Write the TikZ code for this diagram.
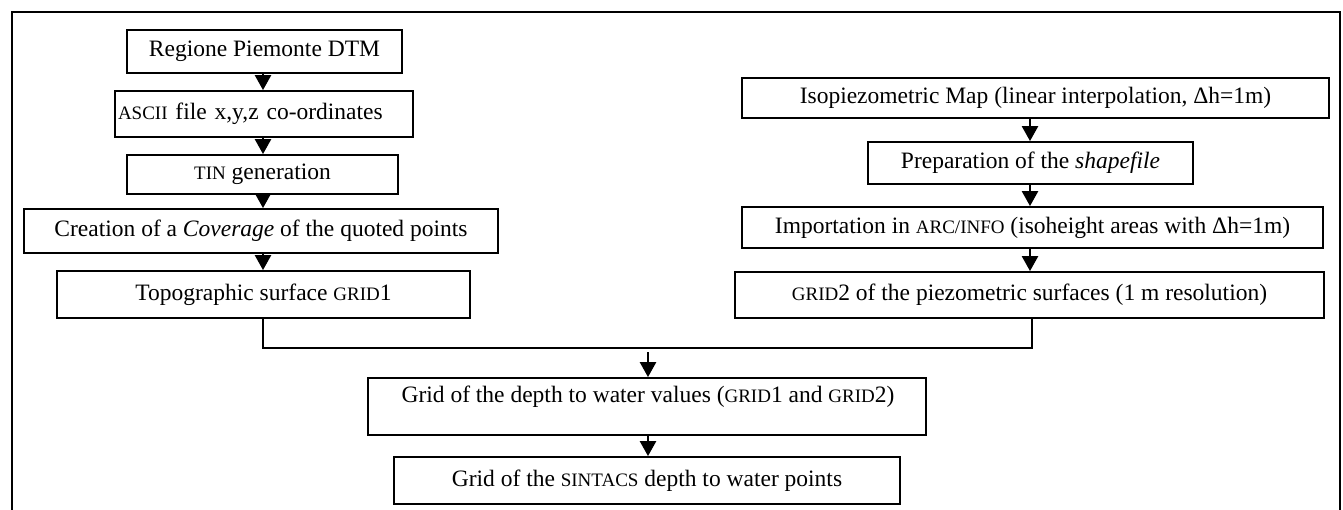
\documentclass[tikz,border=0pt]{standalone}
\usepackage{fontspec}
\setmainfont{Liberation Serif}
\usetikzlibrary{arrows.meta}
\newcommand\mysc[1]{{\fontsize{19}{22}\selectfont #1}}
\begin{document}
\begin{tikzpicture}[x=1pt,y=-1pt,
  font=\fontsize{23.5}{28}\selectfont,
  box/.style={draw, line width=1.8pt, inner sep=0pt},
  conn/.style={line width=1.8pt},
  arr/.style={line width=2.5pt, -{Triangle[length=15pt,width=16pt]}}]
\useasboundingbox (0,0) rectangle (1343,510);
% frame
\draw[line width=2pt] (12,510) -- (12,12) -- (1340,12) -- (1340,510);
% left column
\node[box, minimum width=275pt, minimum height=43pt] (b1) at (264.5,51.5) {Regione Piemonte DTM};
\node[box, minimum width=298pt, minimum height=46pt, text width=292pt, align=left] (b2) at (264,114) {\mysc{ASCII} file x,y,z co-ordinates};
\node[box, minimum width=271pt, minimum height=39pt] (b3) at (262.5,174.5) {\mysc{TIN} generation};
\node[box, minimum width=474pt, minimum height=44pt] (b4) at (261,231) {Creation of a \textit{Coverage} of the quoted points};
\node[box, minimum width=413pt, minimum height=47pt] (b5) at (263.5,294.5) {Topographic surface \mysc{GRID}1};
% right column
\node[box, minimum width=587pt, minimum height=40pt] (r1) at (1035.5,98) {Isopiezometric Map (linear interpolation, Δh=1m)};
\node[box, minimum width=325pt, minimum height=42pt] (r2) at (1030.5,163) {Preparation of the \textit{shapefile}};
\node[box, minimum width=581pt, minimum height=41pt] (r3) at (1032.5,227.5) {Importation in \mysc{ARC/INFO} (isoheight areas with Δh=1m)};
\node[box, minimum width=589pt, minimum height=46pt] (r4) at (1029.5,295) {\mysc{GRID}2 of the piezometric surfaces (1 m resolution)};
% bottom
\node[box, minimum width=558pt, minimum height=57pt] (c1) at (647,406.5) {};
\node (c1t) at (648,397) {Grid of the depth to water values (\mysc{GRID}1 and \mysc{GRID}2)};
\node[box, minimum width=506pt, minimum height=47pt] (c2) at (647,480.5) {Grid of the \mysc{SINTACS} depth to water points};
% columns
\coordinate (colL) at (263,0);
\coordinate (colR) at (1030,0);
\coordinate (colC) at (648,0);
\coordinate (jl) at (263,348);
\coordinate (jr) at (1032,348);
\coordinate (js) at (648,352);
% arrows
\draw[arr] (b1.south -| colL) -- (b2.north -| colL);
\draw[arr] (b2.south -| colL) -- (b3.north -| colL);
\draw[arr] (b3.south -| colL) -- (b4.north -| colL);
\draw[arr] (b4.south -| colL) -- (b5.north -| colL);
\draw[arr] (r1.south -| colR) -- (r2.north -| colR);
\draw[arr] (r2.south -| colR) -- (r3.north -| colR);
\draw[arr] (r3.south -| colR) -- (r4.north -| colR);
\draw[conn] (b5.south -| jl) -- (jl) -- (jr) -- (r4.south -| jr);
\draw[arr] (js) -- (c1.north -| js);
\draw[arr] (c1.south -| colC) -- (c2.north -| colC);
\end{tikzpicture}
\end{document}
